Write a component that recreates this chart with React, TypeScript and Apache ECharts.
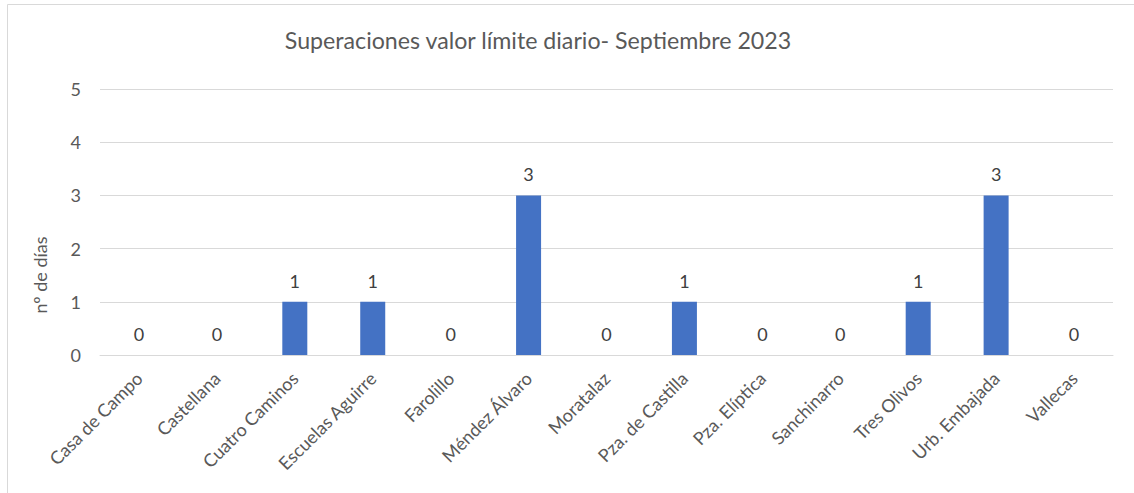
import React, { useEffect, useRef } from "react";
import * as echarts from "echarts";

const title = "Superaciones valor límite diario- Septiembre 2023";
const yAxisTitle = "nº de días";
const categories = [
  "Casa de Campo",
  "Castellana",
  "Cuatro Caminos",
  "Escuelas Aguirre",
  "Farolillo",
  "Méndez Álvaro",
  "Moratalaz",
  "Pza. de Castilla",
  "Pza. Elíptica",
  "Sanchinarro",
  "Tres Olivos",
  "Urb. Embajada",
  "Vallecas",
];
const values = [0, 0, 1, 1, 0, 3, 0, 1, 0, 0, 1, 3, 0];
const yTicks = { min: 0, max: 5, interval: 1 };

const FONT = "Lato, 'Noto Sans', sans-serif";
const TEXT = "#595959";

export default function App() {
  const ref = useRef<HTMLDivElement>(null);
  useEffect(() => {
    if (!ref.current) return;
    const chart = echarts.init(ref.current, null, { renderer: "svg" });
    chart.setOption({
      animation: false,
      backgroundColor: "#ffffff",
      textStyle: { fontFamily: FONT },
      title: {
        text: title,
        left: 533,
        top: 23,
        textAlign: "center",
        textStyle: { fontFamily: FONT, fontSize: 23.2, fontWeight: "normal", color: TEXT },
      },
      grid: { left: 100, right: 21, top: 89, bottom: 138, containLabel: false },
      xAxis: {
        type: "category",
        data: categories,
        axisLine: { lineStyle: { color: "#d9d9d9", width: 1 } },
        axisTick: { show: false },
        axisLabel: {
          interval: 0,
          rotate: 45,
          margin: 20,
          color: TEXT,
          fontFamily: FONT,
          fontSize: 18,
        },
      },
      yAxis: {
        type: "value",
        min: yTicks.min,
        max: yTicks.max,
        interval: yTicks.interval,
        axisLine: { show: false },
        axisTick: { show: false },
        splitLine: { lineStyle: { color: "#d9d9d9", width: 1 } },
        axisLabel: { color: TEXT, fontFamily: FONT, fontSize: 18, margin: 19 },
      },
      graphic: [
        {
          type: "rect",
          shape: { x: 7.5, y: 4.5, width: 1300, height: 700 },
          style: { fill: "none", stroke: "#d9d9d9", lineWidth: 1 },
          silent: true,
        },
        {
          type: "text",
          x: 40,
          y: 275,
          rotation: Math.PI / 2,
          style: {
            text: yAxisTitle,
            fill: TEXT,
            font: `18px ${FONT}`,
            textAlign: "center",
            textVerticalAlign: "middle",
          },
        },
      ],
      series: [
        {
          type: "bar",
          data: values,
          barWidth: 25,
          itemStyle: { color: "#4472C4" },
          label: {
            show: true,
            position: "top",
            distance: 12,
            color: "#404040",
            fontFamily: FONT,
            fontSize: 18,
          },
        },
      ],
    });
    return () => chart.dispose();
  }, []);
  return (
    <div
      ref={ref}
      style={{ position: "absolute", left: 0, top: 0, width: 1134, height: 493 }}
    />
  );
}
